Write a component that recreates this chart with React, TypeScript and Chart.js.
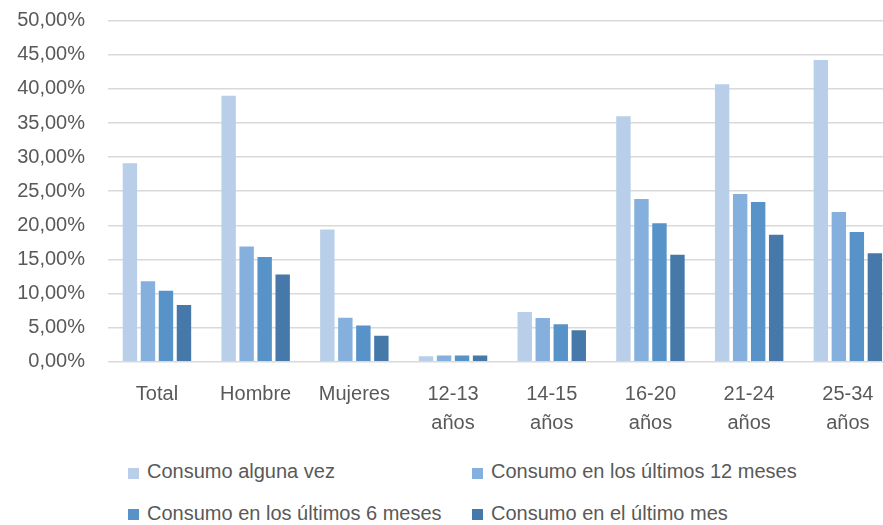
import React, { useEffect, useRef } from "react";
import { Chart, registerables } from "chart.js";

Chart.register(...registerables);

const categories: (string | string[])[] = [
  "Total",
  "Hombre",
  "Mujeres",
  ["12-13", "años"],
  ["14-15", "años"],
  ["16-20", "años"],
  ["21-24", "años"],
  ["25-34", "años"],
];

const seriesNames = [
  "Consumo alguna vez",
  "Consumo en los últimos 12 meses",
  "Consumo en los últimos 6 meses",
  "Consumo en el último mes",
];

const algunaVez = [29.1, 39.0, 19.4, 0.8, 7.3, 36.0, 40.7, 44.25];
const ultimos12 = [11.8, 16.9, 6.45, 0.9, 6.4, 23.85, 24.6, 21.95];
const ultimos6 = [10.4, 15.35, 5.3, 0.9, 5.5, 20.3, 23.4, 19.0];
const ultimoMes = [8.3, 12.8, 3.8, 0.9, 4.6, 15.7, 18.6, 15.9];

const seriesColors = ["#B9CEE9", "#85AFDC", "#5792C9", "#4679AA"];

const yMin = 0;
const yMax = 50;
const yStep = 5;

const FONT = '"Liberation Sans", Arial, sans-serif';
const TEXT = "#595959";

export default function App() {
  const canvasRef = useRef<HTMLCanvasElement | null>(null);

  useEffect(() => {
    if (!canvasRef.current) return;
    const values = [algunaVez, ultimos12, ultimos6, ultimoMes];
    const chart = new Chart(canvasRef.current, {
      type: "bar",
      data: {
        labels: categories,
        datasets: values.map((v, i) => ({
          label: seriesNames[i],
          data: v,
          backgroundColor: seriesColors[i],
          borderWidth: 0,
          categoryPercentage: 0.73,
          barPercentage: 0.8,
        })),
      },
      options: {
        responsive: false,
        animation: false,
        layout: { padding: { top: 20.7, right: 2.8, left: 0, bottom: 0 } },
        plugins: { legend: { display: false }, tooltip: { enabled: false } },
        scales: {
          x: {
            grid: { display: false, drawTicks: false },
            border: { display: false },
            ticks: {
              color: TEXT,
              padding: 18,
              font: { family: FONT, size: 20, lineHeight: 1.45 },
              maxRotation: 0,
              autoSkip: false,
            },
            afterFit: (s: any) => {
              s.height = 78.3;
            },
          },
          y: {
            min: yMin,
            max: yMax,
            grid: { color: "#D9D9D9", lineWidth: 1.5, drawTicks: false },
            border: { display: false },
            ticks: {
              stepSize: yStep,
              color: TEXT,
              padding: 22.6,
              font: { family: FONT, size: 20 },
              callback: (v: any) => Number(v).toFixed(2).replace(".", ",") + "%",
            },
            afterFit: (s: any) => {
              s.width = 107.6;
              s.paddingTop = 12;
              s.paddingBottom = 12;
            },
          },
        },
      },
    });
    return () => chart.destroy();
  }, []);

  const legendPos = [
    { box: [128, 468], text: [147, 461] },
    { box: [472, 468], text: [491, 461] },
    { box: [128, 509], text: [147, 503] },
    { box: [472, 509], text: [491, 503] },
  ];

  return (
    <div
      style={{
        position: "fixed",
        left: 0,
        top: 0,
        width: 883,
        height: 525,
        overflow: "hidden",
        background: "#fff",
      }}
    >
      <canvas
        ref={canvasRef}
        width={900}
        height={440}
        style={{ position: "absolute", left: 0, top: 0, width: 900, height: 440 }}
      />
      {seriesNames.map((name, i) => (
        <React.Fragment key={name}>
          <div
            style={{
              position: "absolute",
              left: legendPos[i].box[0],
              top: legendPos[i].box[1],
              width: 11,
              height: 11,
              background: seriesColors[i],
            }}
          />
          <div
            style={{
              position: "absolute",
              left: legendPos[i].text[0],
              top: legendPos[i].text[1],
              fontFamily: FONT,
              fontSize: 20,
              lineHeight: "20px",
              color: TEXT,
              whiteSpace: "nowrap",
            }}
          >
            {name}
          </div>
        </React.Fragment>
      ))}
    </div>
  );
}
